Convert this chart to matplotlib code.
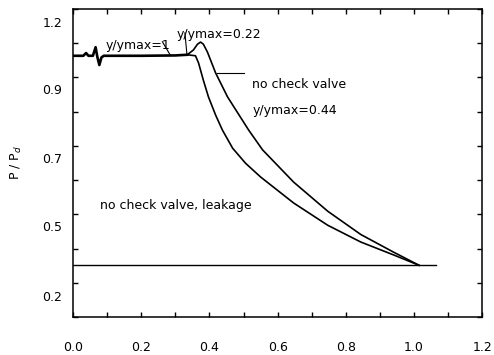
import matplotlib
matplotlib.use("Agg")
from matplotlib import pyplot as plt

# shared flat start (pressure before the valve closes)
flat_x = [0.0, 0.03, 0.038, 0.045, 0.058, 0.066, 0.071, 0.077, 0.083, 0.09, 0.2, 0.3, 0.335]
flat_y = [1.063, 1.063, 1.071, 1.063, 1.063, 1.088, 1.060, 1.036, 1.058, 1.063, 1.063, 1.064, 1.066]

# no check valve (upper curve)
upper_x = [0.335, 0.353, 0.365, 0.374, 0.382, 0.394, 0.418, 0.453, 0.515,
           0.556, 0.647, 0.747, 0.844, 0.941, 1.015]
upper_y = [1.066, 1.080, 1.097, 1.103, 1.097, 1.074, 1.013, 0.943, 0.846,
           0.788, 0.694, 0.609, 0.541, 0.489, 0.451]

# no check valve, leakage (lower curve)
lower_x = [0.335, 0.359, 0.368, 0.382, 0.397, 0.418, 0.438, 0.468, 0.506,
           0.550, 0.647, 0.747, 0.844, 0.941, 1.015]
lower_y = [1.066, 1.063, 1.042, 0.992, 0.943, 0.890, 0.846, 0.793, 0.749,
           0.709, 0.633, 0.568, 0.519, 0.481, 0.451]

# steady level line
base_x = [0.0, 1.065]
base_y = [0.451, 0.451]

x_ticks = [0.0, 0.2, 0.4, 0.6, 0.8, 1.0, 1.2]
x_minor = [0.1, 0.3, 0.5, 0.7, 0.9, 1.1]
y_minor = [0.3, 0.4, 0.5, 0.6, 0.7, 0.8, 0.9, 1.0, 1.1, 1.2]
y_label_pos = [1.162, 0.966, 0.764, 0.565, 0.361]
y_labels = ['1.2', '0.9', '0.7', '0.5', '0.2']

plt.rcParams['font.family'] = ['DejaVu Sans']
plt.rcParams['font.size'] = 9

fig = plt.figure(figsize=(4.94, 3.55), dpi=100)
ax = fig.add_axes([0.148, 0.107, 0.828, 0.868])

ax.plot(upper_x, upper_y, color='black', lw=1.2)
ax.plot(lower_x, lower_y, color='black', lw=1.2)
ax.plot(flat_x, flat_y, color='black', lw=1.9)
ax.plot(base_x, base_y, color='black', lw=1.0)

# annotations with leader lines
ax.text(0.094, 1.092, 'y/ymax=1', va='center', ha='left')
ax.plot([0.262, 0.285], [1.104, 1.065], color='black', lw=0.8)
ax.text(0.303, 1.124, 'y/ymax=0.22', va='center', ha='left')
ax.plot([0.328, 0.334], [1.130, 1.066], color='black', lw=0.8)
ax.text(0.526, 0.978, 'no check valve', va='center', ha='left')
ax.plot([0.423, 0.500], [1.012, 1.012], color='black', lw=0.8)
ax.text(0.526, 0.902, 'y/ymax=0.44', va='center', ha='left')
ax.text(0.079, 0.627, 'no check valve, leakage', va='center', ha='left')

ax.set_xlim(0, 1.2)
ax.set_ylim(0.3, 1.2)

ax.set_xticks(x_ticks)
ax.set_xticklabels([f'{v:.1f}' for v in x_ticks])
ax.set_xticks(x_minor, minor=True)
ax.set_yticks(y_label_pos)
ax.set_yticklabels(y_labels)
ax.set_yticks(y_minor, minor=True)

ax.tick_params(axis='x', which='both', direction='in', top=True, length=3.5, width=1, pad=17)
ax.tick_params(axis='y', which='major', length=0, pad=8)
ax.tick_params(axis='y', which='minor', direction='in', right=True, length=3.5, width=1)

for s in ax.spines.values():
    s.set_linewidth(1.1)

ax.set_ylabel('P / P$_d$', labelpad=13)

fig.savefig('out.png', dpi=100)
